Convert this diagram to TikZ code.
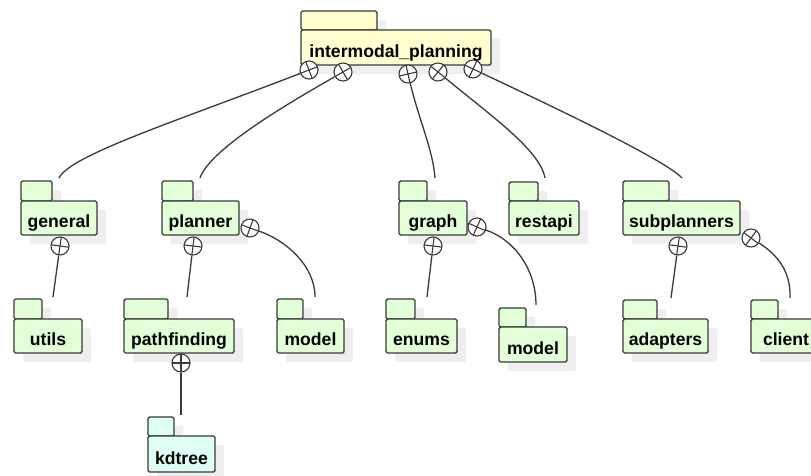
\documentclass[tikz,border=0pt]{standalone}
\usepackage{fontspec}
\setmainfont{Liberation Sans}
\definecolor{greenc}{HTML}{E2FFD8}
\definecolor{cyanc}{HTML}{DDFFF6}
\definecolor{yellowc}{HTML}{FEFECE}
\definecolor{linec}{HTML}{3A3A3A}
\definecolor{shadowc}{HTML}{EFEFEF}
\tikzset{
  pkgline/.style={draw=linec, line width=1.4pt, rounded corners=1.5pt},
  pkgshadow/.style={fill=shadowc, rounded corners=2pt},
  pkgtext/.style={anchor=base, inner sep=0pt, font=\fontsize{17.6}{20}\selectfont\bfseries, text=black},
  xcirc/.style={circle, draw=linec, line width=1.1pt, fill=white, minimum size=18pt, inner sep=0pt},
  xline/.style={draw=linec, line width=1.1pt},
  conn/.style={draw=linec, line width=1.3pt}
}
% #1 name, #2 x1, #3 ytab, #4 xtab, #5 ybody, #6 x2, #7 y2, #8 text, #9 fill
\newcommand\pkgdraw[9]{%
  \fill[pkgshadow] (#2+9,#3+9) rectangle (#4+9,#5+9);
  \fill[pkgshadow] (#2+9,#5+9) rectangle (#6+9,#7+9);
  \draw[pkgline, fill=#9] (#2,#3) rectangle (#4,#5);
  \draw[pkgline, fill=#9] (#2,#5) rectangle (#6,#7);
  \node[pkgtext] (#1) at ({(#2+#6)/2},#7-8) {#8};
}
% #1 name, #2 x, #3 y, #4 angle
\newcommand\xcdraw[4]{%
  \node[xcirc] (#1) at (#2,#3) {};
  \draw[xline] (#1.center) +(#4:9) -- +(#4+180:9);
  \draw[xline] (#1.center) +(#4+90:9) -- +(#4+270:9);
}
\begin{document}
\begin{tikzpicture}[x=1pt,y=-1pt]
\clip (0,0) rectangle (811,475);
\fill[white] (0,0) rectangle (811,475);
% packages
\pkgdraw{top}{301}{11}{377}{30}{491}{65}{intermodal\_planning}{yellowc}
\pkgdraw{general}{21}{181}{52}{201}{97}{235}{general}{greenc}
\pkgdraw{planner}{162}{181}{193}{201}{239}{235}{planner}{greenc}
\pkgdraw{graph}{399}{181}{427}{201}{467}{235}{graph}{greenc}
\pkgdraw{restapi}{509}{182}{538}{201}{579}{235}{restapi}{greenc}
\pkgdraw{subplanners}{623}{181}{669}{201}{740}{235}{subplanners}{greenc}
\pkgdraw{utils}{14}{299}{42}{319}{82}{353}{utils}{greenc}
\pkgdraw{pathfinding}{124}{299}{168}{319}{234}{353}{pathfinding}{greenc}
\pkgdraw{modelA}{277}{299}{303}{319}{344}{353}{model}{greenc}
\pkgdraw{enums}{386}{299}{415}{319}{457}{353}{enums}{greenc}
\pkgdraw{modelB}{499}{308}{526}{327}{567}{362}{model}{greenc}
\pkgdraw{adapters}{623}{300}{657}{319}{708}{353}{adapters}{greenc}
\pkgdraw{client}{751}{300}{778}{319}{821}{353}{client}{greenc}
\pkgdraw{kdtree}{148}{417}{174}{436}{215}{472}{kdtree}{cyanc}
% containment circles
\xcdraw{c1}{309}{70}{159}
\xcdraw{c2}{343}{72}{150}
\xcdraw{c3}{408}{74}{77}
\xcdraw{c4}{438}{72}{39}
\xcdraw{c5}{473}{69}{25}
\xcdraw{gc}{60}{246}{98}
\xcdraw{pc}{193}{246}{97}
\xcdraw{pr}{250}{228}{20}
\xcdraw{grc}{433}{246}{97}
\xcdraw{grr}{477}{227}{24}
\xcdraw{sc}{678}{246}{98}
\xcdraw{sr}{751}{238}{37}
\xcdraw{pfc}{181}{363}{90}
% connector ends
\coordinate (genin) at (59,178);
\coordinate (planin) at (200,178);
\coordinate (grin) at (435,178);
\coordinate (restin) at (545,178);
\coordinate (subin) at (682,178);
\coordinate (utilsin) at (53,297);
\coordinate (pathin) at (187,297);
\coordinate (mAin) at (315,297);
\coordinate (enumsin) at (427,297);
\coordinate (mBin) at (536,305);
\coordinate (adin) at (671,298);
\coordinate (clin) at (790,298);
\coordinate (kdin) at (181,415);
% connectors
\draw[conn] (c1) .. controls (180,120) and (70,155) .. (genin);
\draw[conn] (c2) .. controls (280,108) and (210,150) .. (planin);
\draw[conn] (c3) .. controls (419,120) and (433,150) .. (grin);
\draw[conn] (c4) .. controls (490,115) and (540,150) .. (restin);
\draw[conn] (c5) .. controls (560,110) and (665,160) .. (subin);
\draw[conn] (gc) -- (utilsin);
\draw[conn] (pc) -- (pathin);
\draw[conn] (pr) .. controls (285,240) and (315,265) .. (mAin);
\draw[conn] (grc) -- (enumsin);
\draw[conn] (grr) .. controls (515,240) and (536,270) .. (mBin);
\draw[conn] (sc) -- (adin);
\draw[conn] (sr) .. controls (778,255) and (791,272) .. (clin);
\draw[conn] (pfc) -- (kdin);
\end{tikzpicture}
\end{document}
